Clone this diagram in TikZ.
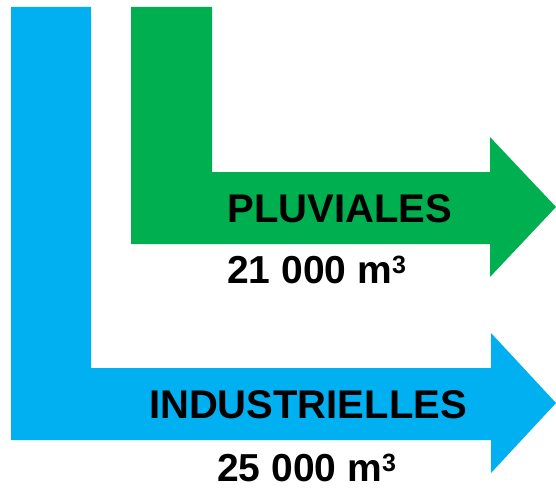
\documentclass[tikz,border=0pt]{standalone}
\usepackage{fontspec}
\setmainfont{Liberation Sans}
\usepackage{tikz}
\definecolor{indblue}{HTML}{00B0F0}
\definecolor{pluvgreen}{HTML}{00B050}
\newcommand{\cubic}{\raisebox{10pt}{\fontsize{25}{25}\selectfont\bfseries 3}}
\tikzset{label/.style = {font=\bfseries\fontsize{40}{46}\selectfont, inner sep=0pt},
         volume/.style = {font=\bfseries\fontsize{39}{45}\selectfont, inner sep=0pt, anchor=base west}}

\begin{document}
\begin{tikzpicture}[x=1pt, y=-1pt]
    \useasboundingbox (0, 0) rectangle (556, 487);
    \fill [indblue] (11, 7) -- (91, 7) -- (91, 368) -- (491, 368) -- (491, 333)
        -- (556, 403) -- (491, 473) -- (491, 440) -- (11, 440) -- cycle;
    \fill [pluvgreen] (131, 7) -- (212, 7) -- (212, 172) -- (490, 172) -- (490, 137)
        -- (556, 207) -- (490, 277) -- (490, 244) -- (131, 244) -- cycle;
    \node (pluv) at (340, 222) [label, anchor=base] {PLUVIALES};
    \node (pluvvol) at (227, 283) [volume] {21 000 m\cubic};
    \node (ind) at (308, 418) [label, anchor=base] {INDUSTRIELLES};
    \node (indvol) at (217, 481) [volume] {25 000 m\cubic};
  \end{tikzpicture}
\end{document}
